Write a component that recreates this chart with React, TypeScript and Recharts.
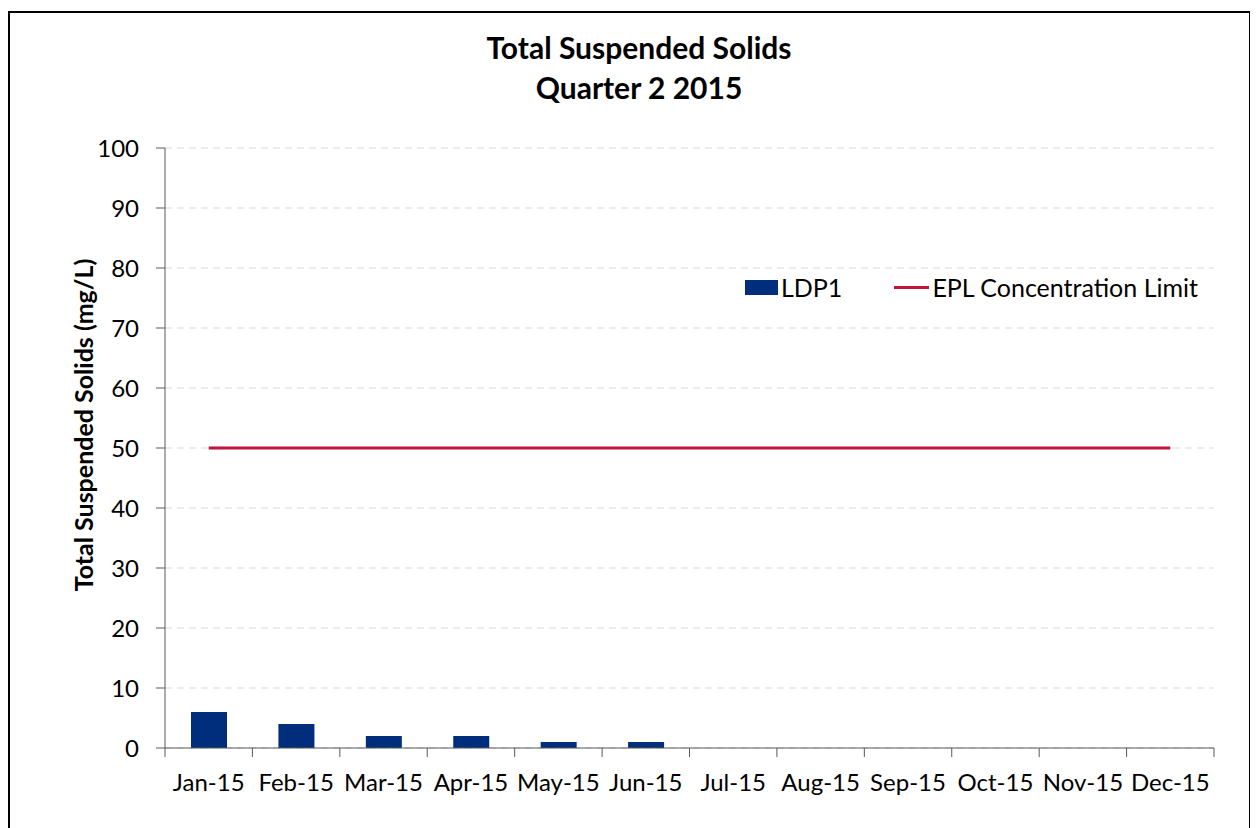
import {
  Bar,
  CartesianGrid,
  ComposedChart,
  Line,
  XAxis,
  YAxis,
} from 'recharts';

const months = [
  'Jan-15', 'Feb-15', 'Mar-15', 'Apr-15', 'May-15', 'Jun-15',
  'Jul-15', 'Aug-15', 'Sep-15', 'Oct-15', 'Nov-15', 'Dec-15',
];
const ldp1 = [6, 4, 2, 2, 1, 1, null, null, null, null, null, null];
const eplLimit = [50, 50, 50, 50, 50, 50, 50, 50, 50, 50, 50, 50];
const yTicks = [0, 10, 20, 30, 40, 50, 60, 70, 80, 90, 100];

const BAR_COLOR = '#002D7C';
const LINE_COLOR = '#C0143C';
const AXIS_COLOR = '#595959';
const GRID_COLOR = '#D9D9D9';
const FONT = 'Lato, "Open Sans", sans-serif';

const CHART_W = 1239;
const CHART_H = 820;
const MARGIN = { top: 135, right: 35, bottom: 25, left: 65 };
const Y_AXIS_W = 90;
const PLOT_W = CHART_W - MARGIN.left - MARGIN.right - Y_AXIS_W;
const BAND = PLOT_W / months.length;

const data = months.map((month, i) => ({
  month,
  ldp1: ldp1[i],
  limit: eplLimit[i],
}));

// Excel style: tick marks sit between categories, labels at the centre
const MonthTick = (props: any) => {
  const { x, y, payload, index } = props;
  const left = x - BAND / 2;
  return (
    <g>
      <line x1={left} y1={y} x2={left} y2={y + 9} stroke={AXIS_COLOR} strokeWidth={1} />
      {index === months.length - 1 && (
        <line x1={x + BAND / 2} y1={y} x2={x + BAND / 2} y2={y + 9} stroke={AXIS_COLOR} strokeWidth={1} />
      )}
      <text
        x={x}
        y={y + 43}
        textAnchor="middle"
        fill="#000"
        fontSize={24}
        fontFamily={FONT}
      >
        {payload.value}
      </text>
    </g>
  );
};

const ChartLegend = () => (
  <div
    style={{
      position: 'absolute',
      left: 735,
      top: 260,
      display: 'flex',
      alignItems: 'center',
      height: 28,
      fontFamily: FONT,
      fontSize: 25,
      color: '#000',
      whiteSpace: 'nowrap',
    }}
  >
    <span style={{ display: 'inline-block', width: 33, height: 15, background: BAR_COLOR, marginRight: 3 }} />
    <span>LDP1</span>
    <span
      style={{
        display: 'inline-block',
        width: 35,
        height: 3,
        background: LINE_COLOR,
        marginLeft: 52,
        marginRight: 3,
      }}
    />
    <span>EPL Concentration Limit</span>
  </div>
);

export default function App() {
  return (
    <div
      style={{
        position: 'relative',
        top: 3,
        width: CHART_W,
        height: 830,
        border: '2px solid #000',
        background: '#fff',
      }}
    >
      <div
        style={{
          position: 'absolute',
          top: 14,
          left: 0,
          width: 1258,
          textAlign: 'center',
          fontFamily: FONT,
          fontWeight: 700,
          fontSize: 30,
          lineHeight: '40px',
          color: '#000',
        }}
      >
        Total Suspended Solids
        <br />
        Quarter 2 2015
      </div>
      <ComposedChart width={CHART_W} height={CHART_H} data={data} margin={MARGIN}>
        <CartesianGrid vertical={false} stroke={GRID_COLOR} strokeDasharray="7 5" />
        <XAxis
          dataKey="month"
          interval={0}
          tickLine={false}
          tickSize={0}
          tickMargin={0}
          tick={<MonthTick />}
          height={60}
          axisLine={{ stroke: AXIS_COLOR, strokeWidth: 1 }}
        />
        <YAxis
          width={Y_AXIS_W}
          domain={[0, 100]}
          ticks={yTicks}
          interval={0}
          tickSize={9}
          tickMargin={17}
          axisLine={{ stroke: AXIS_COLOR, strokeWidth: 1 }}
          tickLine={{ stroke: AXIS_COLOR }}
          tick={{ fill: '#000', fontSize: 24, fontFamily: FONT }}
          label={{
            content: () => (
              <text
                x={73}
                y={412}
                transform="rotate(-90 73 412)"
                textAnchor="middle"
                dominantBaseline="central"
                fontFamily={FONT}
                fontWeight={700}
                fontSize={25}
                fill="#000"
              >
                Total Suspended Solids (mg/L)
              </text>
            ),
          }}
        />
        <Bar dataKey="ldp1" name="LDP1" fill={BAR_COLOR} barSize={36} isAnimationActive={false} />
        <Line
          dataKey="limit"
          name="EPL Concentration Limit"
          type="linear"
          stroke={LINE_COLOR}
          strokeWidth={3}
          dot={false}
          activeDot={false}
          isAnimationActive={false}
        />
      </ComposedChart>
      <ChartLegend />
    </div>
  );
}
